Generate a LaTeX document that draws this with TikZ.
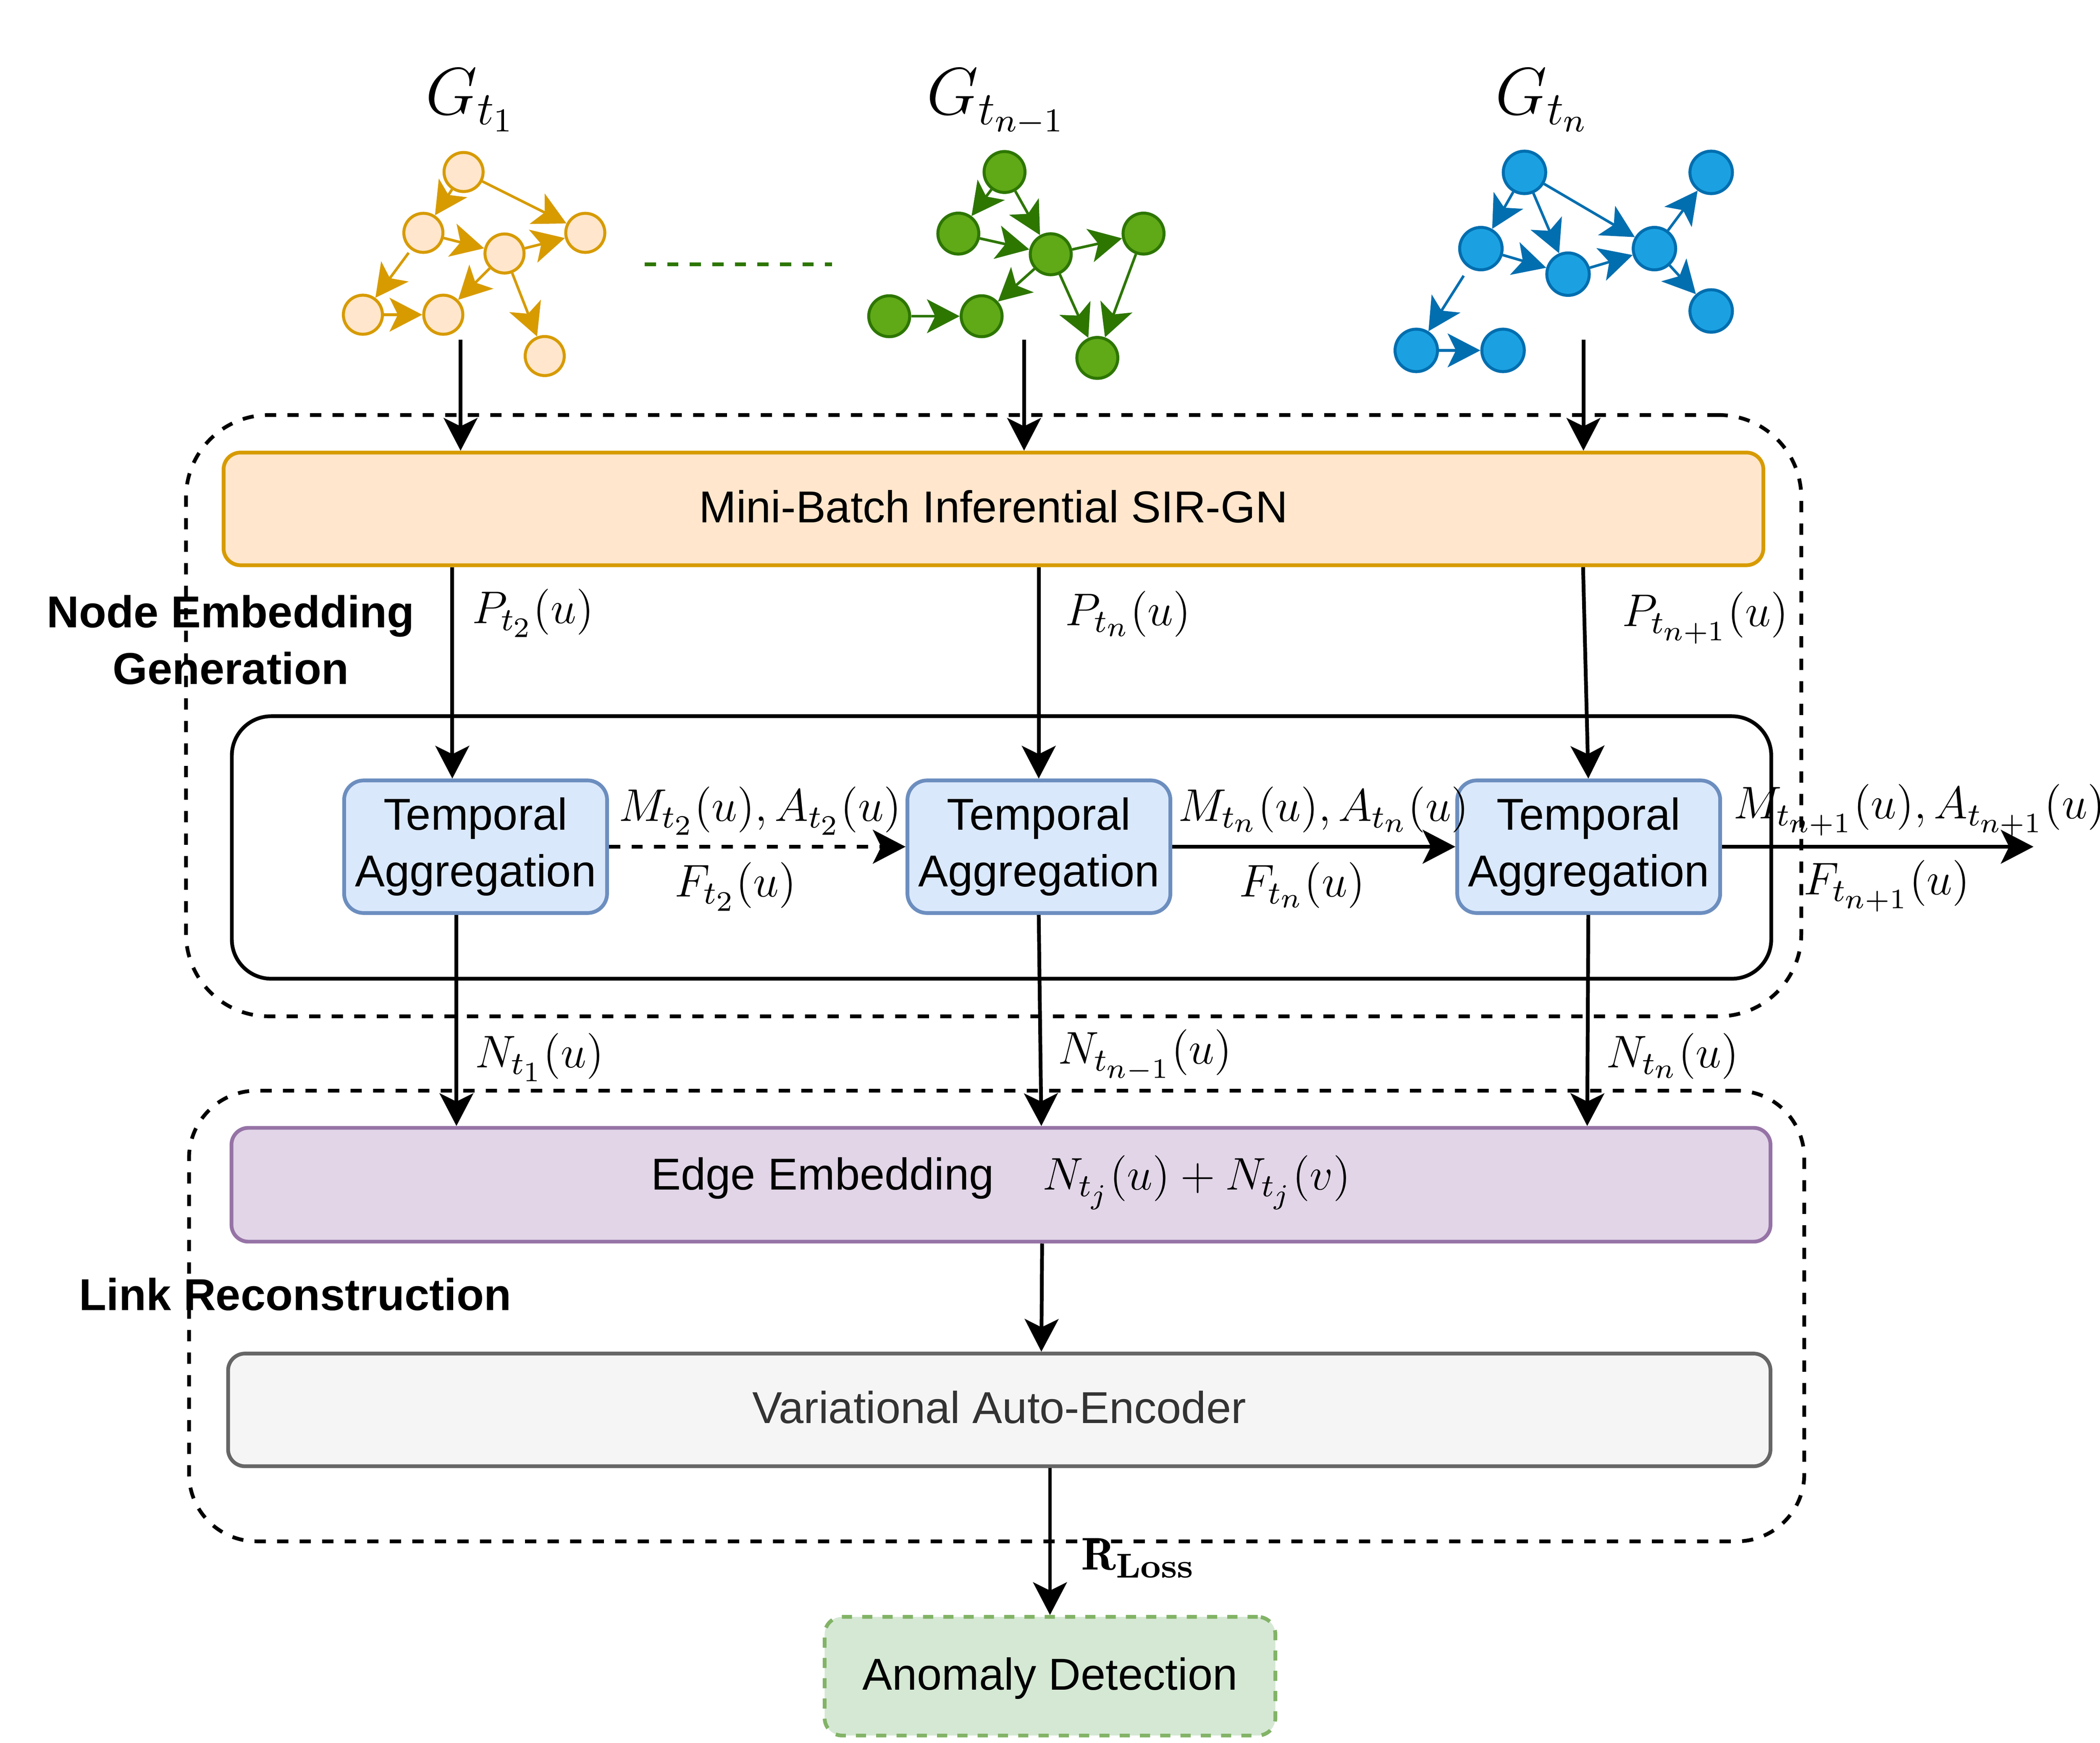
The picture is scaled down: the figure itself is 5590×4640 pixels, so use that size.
\documentclass[tikz,border=0pt]{standalone}
\usepackage{fix-cm}
\usepackage{fontspec}
\setsansfont{Liberation Sans}
\usetikzlibrary{arrows.meta}
\DeclareMathSizes{12.2}{12.2}{8.6}{7.5}
\definecolor{oFill}{HTML}{FFE6CC}
\definecolor{oLine}{HTML}{D79B00}
\definecolor{gFill}{HTML}{60A917}
\definecolor{gLine}{HTML}{2D7600}
\definecolor{bFill}{HTML}{1BA1E2}
\definecolor{bLine}{HTML}{006EAF}
\definecolor{taFill}{HTML}{DAE8FC}
\definecolor{taLine}{HTML}{6C8EBF}
\definecolor{eeFill}{HTML}{E1D5E7}
\definecolor{eeLine}{HTML}{9673A6}
\definecolor{vaeFill}{HTML}{F5F5F5}
\definecolor{vaeLine}{HTML}{666666}
\definecolor{vaeText}{HTML}{333333}
\definecolor{adFill}{HTML}{D5E8D4}
\definecolor{adLine}{HTML}{82B366}
\newcommand{\mysans}{\sffamily\fontsize{11.9pt}{15pt}\selectfont}
\newcommand{\mybold}{\sffamily\bfseries\fontsize{11.9pt}{15.1pt}\selectfont}
\newcommand{\mymath}{\fontsize{12.2pt}{14pt}\selectfont}
\newcommand{\mybig}{\fontsize{17.8pt}{20pt}\selectfont}
\newcommand{\losstext}{\mbox{\fontsize{9.2pt}{10pt}\selectfont\rmfamily\bfseries Loss}}
\begin{document}
\begin{tikzpicture}[x=0.1pt,y=-0.1pt,
  conn/.style={line width=1pt,-{Stealth[length=8.7pt,width=9pt,inset=2.2pt]}},
  gedge/.style={line width=0.7pt,-{Stealth[length=8.7pt,width=9pt,inset=2.2pt]}},
  gnode/.style={circle,inner sep=0pt,line width=0.8pt},
  onode/.style={gnode,fill=oFill,draw=oLine,minimum size=10.4pt},
  grnode/.style={gnode,fill=gFill,draw=gLine,minimum size=10.9pt},
  blnode/.style={gnode,fill=bFill,draw=bLine,minimum size=11.3pt},
  box/.style={rectangle,inner sep=0pt,line width=1pt,font=\mysans,text height=8.7pt,text depth=1.5pt},
  tabox/.style={rectangle,inner sep=0pt,line width=1pt,font=\mysans,align=center,fill=taFill,draw=taLine,
     minimum width=70pt,minimum height=35.3pt,rounded corners=5.2pt},
  group/.style={rectangle,inner sep=0pt,draw,line width=1pt,dash pattern=on 3pt off 3pt},
  mlab/.style={font=\mymath,inner sep=0pt,anchor=base west},
  glab/.style={font=\mybig,inner sep=0pt,anchor=base}]
\useasboundingbox (0,0) rectangle (5590,4640);

% containers
\node[group,rounded corners=22pt,minimum width=430pt,minimum height=160.1pt] (grp1) at (2645,1905.5) {};
\node[group,rounded corners=18pt,minimum width=430pt,minimum height=120pt] (grp2) at (2653,3504) {};
\node[rectangle,draw,line width=1pt,inner sep=0pt,rounded corners=10.5pt,minimum width=409.8pt,minimum height=69.9pt] (inner) at (2666,2256.5) {};

% group titles
\node[font=\mybold,align=center,inner sep=0pt] (lbl1) at (614,1704) {Node Embedding\\Generation};
\node[font=\mybold,anchor=base west,inner sep=0pt] (lbl2) at (209,3489) {Link Reconstruction};

% snapshot titles
\node[glab] (gl1) at (1252,305) {$G_{t_1}$};
\node[glab] (gl2) at (2652,305) {$G_{t_{n-1}}$};
\node[glab] (gl3) at (4105,305) {$G_{t_n}$};

% orange graph
\node[onode] (o1) at (1234,458) {};
\node[onode] (o2) at (1127,620) {};
\node[onode] (o3) at (1558,620) {};
\node[onode] (o4) at (1343,675) {};
\node[onode] (o5) at (966,838) {};
\node[onode] (o6) at (1180,838) {};
\node[onode] (o7) at (1450,948) {};
\draw[gedge,oLine] (o1) -- (o2);
\draw[gedge,oLine] (o1) -- (o3);
\draw[gedge,oLine] (o2) -- (o4);
\draw[gedge,oLine] (o4) -- (o3);
\draw[gedge,oLine,shorten <=1pt] (o2) -- (o5);
\draw[gedge,oLine] (o5) -- (o6);
\draw[gedge,oLine] (o4) -- (o6);
\draw[gedge,oLine] (o4) -- (o7);

% dashed separator
\coordinate (dl) at (1716,704);
\coordinate (dr) at (2215,704);
\draw[gLine,line width=1pt,dash pattern=on 3pt off 3pt] (dl) -- (dr);

% green graph
\node[grnode] (g1) at (2674,458) {};
\node[grnode] (g2) at (2551,622) {};
\node[grnode] (g3) at (2797,677) {};
\node[grnode] (g4) at (3044,622) {};
\node[grnode] (g5) at (2367,842) {};
\node[grnode] (g6) at (2613,842) {};
\node[grnode] (g7) at (2921,953) {};
\draw[gedge,gLine] (g1) -- (g2);
\draw[gedge,gLine] (g1) -- (g3);
\draw[gedge,gLine] (g2) -- (g3);
\draw[gedge,gLine] (g3) -- (g4);
\draw[gedge,gLine] (g3) -- (g6);
\draw[gedge,gLine] (g5) -- (g6);
\draw[gedge,gLine] (g3) -- (g7);
\draw[gedge,gLine] (g4) -- (g7);

% blue graph
\node[blnode] (b1) at (4058,459) {};
\node[blnode] (b2) at (3942,662) {};
\node[blnode] (b3) at (4174,730) {};
\node[blnode] (b4) at (4404,662) {};
\node[blnode] (b5) at (4555,459) {};
\node[blnode] (b6) at (4555,828) {};
\node[blnode] (b7) at (3770,933) {};
\node[blnode] (b8) at (4001,933) {};
\draw[gedge,bLine] (b1) -- (b2);
\draw[gedge,bLine] (b1) -- (b3);
\draw[gedge,bLine] (b1) -- (b4);
\draw[gedge,bLine] (b2) -- (b3);
\draw[gedge,bLine] (b3) -- (b4);
\draw[gedge,bLine] (b4) -- (b5);
\draw[gedge,bLine] (b4) -- (b6);
\draw[gedge,bLine,shorten <=2.5pt] (b2) -- (b7);
\draw[gedge,bLine] (b7) -- (b8);

% main boxes
\node[box,fill=oFill,draw=oLine,minimum width=409.9pt,minimum height=30pt,rounded corners=4.5pt] (sir) at (2644.5,1355) {Mini-Batch Inferential SIR-GN};
\node[tabox] (ta1) at (1266,2254.5) {Temporal\\Aggregation};
\node[tabox] (ta2) at (2765.5,2254.5) {Temporal\\Aggregation};
\node[tabox] (ta3) at (4229,2254.5) {Temporal\\Aggregation};
\node[box,fill=eeFill,draw=eeLine,minimum width=409.7pt,minimum height=30.3pt,rounded corners=4.5pt,text height=9.2pt,text depth=6.5pt] (ee) at (2664.5,3154.5) {Edge Embedding\hspace{12.9pt}{\mymath$N_{t_j}(u)+N_{t_j}(v)$}};
\node[box,fill=vaeFill,draw=vaeLine,text=vaeText,minimum width=410.6pt,minimum height=30pt,rounded corners=4.5pt] (vae) at (2660,3754) {Variational Auto-Encoder};
\node[box,fill=adFill,draw=adLine,dash pattern=on 2.7pt off 2.7pt,minimum width=120pt,minimum height=31.6pt,rounded corners=4.7pt] (ad) at (2795,4463) {Anomaly Detection};

% inputs from snapshots
\coordinate (s1) at (1226,905);
\coordinate (s2) at (2726,905);
\coordinate (s3) at (4215,905);
\draw[conn] (s1) -- (s1 |- sir.north);
\draw[conn] (s2) -- (s2 |- sir.north);
\draw[conn] (s3) -- (s3 |- sir.north);

% SIR-GN to temporal aggregation
\draw[conn] (sir.south -| 1204,0) -- (ta1.north -| 1204,0);
\draw[conn] (sir.south -| 2765,0) -- (ta2.north -| 2765,0);
\draw[conn] (sir.south -| 4214,0) -- (ta3.north -| 4228,0);

% temporal chain
\coordinate (out) at (5413,2254.5);
\draw[conn,dash pattern=on 3pt off 3pt] (ta1.east) -- (ta2.west);
\draw[conn] (ta2.east) -- (ta3.west);
\draw[conn] (ta3.east) -- (out);

% to edge embedding
\draw[conn] (ta1.south -| 1215,0) -- (ee.north -| 1215,0);
\draw[conn] (ta2.south -| 2765,0) -- (ee.north -| 2772,0);
\draw[conn] (ta3.south -| 4228,0) -- (ee.north -| 4225,0);
\draw[conn] (ee.south -| 2774,0) -- (vae.north -| 2772,0);
\draw[conn] (vae.south -| 2795,0) -- (ad.north -| 2795,0);

% labels
\node[mlab] (pA) at (1255,1660) {$P_{t_2}(u)$};
\node[mlab] (pB) at (2834,1665) {$P_{t_n}(u)$};
\node[mlab] (pC) at (4316,1668) {$P_{t_{n+1}}(u)$};
\node[mlab] (mA) at (1645,2186) {$M_{t_2}(u), A_{t_2}(u)$};
\node[mlab] (fA) at (1794,2388) {$F_{t_2}(u)$};
\node[mlab] (mB) at (3135,2186) {$M_{t_n}(u), A_{t_n}(u)$};
\node[mlab] (fB) at (3297,2388) {$F_{t_n}(u)$};
\node[mlab] (mC) at (4612,2180) {$M_{t_{n+1}}(u), A_{t_{n+1}}(u)$};
\node[mlab] (fC) at (4799,2382) {$F_{t_{n+1}}(u)$};
\node[mlab] (nA) at (1263,2842) {$N_{t_1}(u)$};
\node[mlab] (nB) at (2815,2833) {$N_{t_{n-1}}(u)$};
\node[mlab] (nC) at (4274,2842) {$N_{t_n}(u)$};
\node[mlab] (rl) at (2876,4180) {$\mathbf{R}_{\losstext}$};
\end{tikzpicture}
\end{document}
